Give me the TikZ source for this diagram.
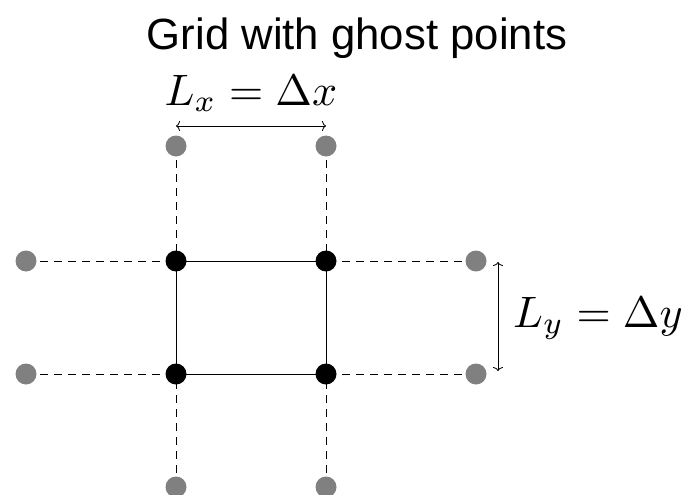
\documentclass[tikz,border=0pt]{standalone}
\usepackage{graphicx}
\usepackage{fontspec}
\usetikzlibrary{arrows.meta}
\newfontfamily\titlefont{Liberation Sans}
\newcommand{\biglbl}[1]{\scalebox{4.4}{$#1$}}
\begin{document}
\begin{tikzpicture}[x=1pt,y=-1pt,
  inner/.style={circle,fill=black,inner sep=0pt,minimum size=21pt},
  ghost/.style={circle,fill=gray,inner sep=0pt,minimum size=21pt},
  ghostline/.style={draw=black,line width=0.8pt,dash pattern=on 8pt off 6pt},
  cell/.style={draw=black,line width=0.8pt},
  dim/.style={draw=black,line width=0.8pt,{To[length=4pt,width=10pt]}-{To[length=4pt,width=10pt]}},
  lbl/.style={inner sep=0pt}]
\useasboundingbox (0,0) rectangle (688,495);
\node[font=\titlefont\fontsize{43.7}{50}\selectfont,anchor=base] (title) at (357,50) {Grid with ghost points};
% inner points
\coordinate (a) at (176,261);
\coordinate (b) at (326,261);
\coordinate (c) at (176,374);
\coordinate (d) at (326,374);
% ghost points
\coordinate (gt1) at (176,146);
\coordinate (gt2) at (326,146);
\coordinate (gl1) at (26,261);
\coordinate (gl2) at (26,374);
\coordinate (gr1) at (476,261);
\coordinate (gr2) at (476,374);
\coordinate (gb1) at (176,487);
\coordinate (gb2) at (326,487);
\draw[ghostline] (gt1) -- (a);
\draw[ghostline] (gt2) -- (b);
\draw[ghostline] (gl1) -- (a);
\draw[ghostline] (gl2) -- (c);
\draw[ghostline] (gr1) -- (b);
\draw[ghostline] (gr2) -- (d);
\draw[ghostline] (gb1) -- (c);
\draw[ghostline] (gb2) -- (d);
\draw[cell] (a) -- (b) -- (d) -- (c) -- cycle;
\foreach \p in {a,b,c,d} \node[inner] (n\p) at (\p) {};
\foreach \p in {gt1,gt2,gl1,gl2,gr1,gr2,gb1,gb2} \node[ghost] (n\p) at (\p) {};
% dimensions
\coordinate (x1) at (176,126);
\coordinate (x2) at (326,126);
\draw[dim] (x1) -- (x2);
\node[lbl,anchor=base] (lx) at (251,105) {\biglbl{L_x = \Delta x}};
\coordinate (y1) at (498,262);
\coordinate (y2) at (498,371);
\draw[dim] (y1) -- (y2);
\node[lbl,anchor=base] (ly) at (598,327) {\biglbl{L_y = \Delta y}};
\end{tikzpicture}
\end{document}
